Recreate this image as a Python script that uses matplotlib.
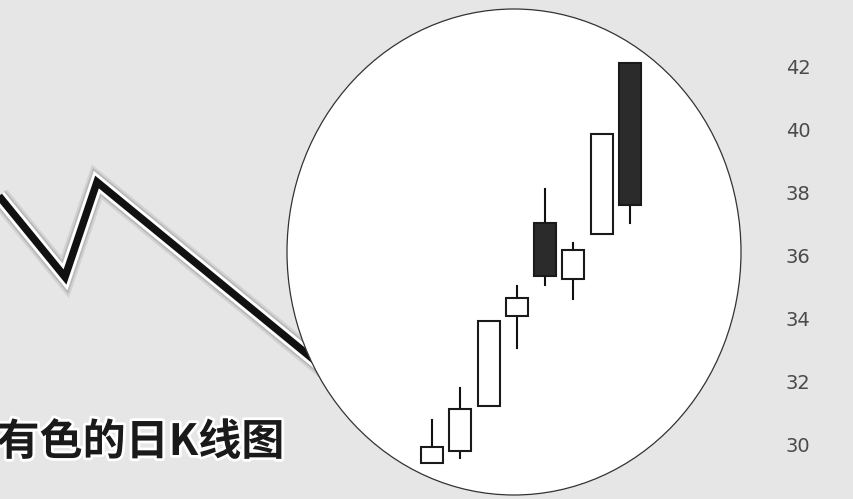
import numpy as np
import matplotlib
matplotlib.use('Agg')
import matplotlib.pyplot as plt
from matplotlib.patches import Ellipse, Rectangle
import matplotlib.patheffects as pe

plt.rcParams['font.family'] = ['Noto Sans CJK SC', 'DejaVu Sans']
plt.rcParams['axes.unicode_minus'] = False

W, H = 854, 499
BG = '#e6e6e6'

# K线数据 (开 高 低 收)
OPEN  = [29.39, 29.77, 31.21, 34.08, 37.05, 35.26, 36.67, 42.14]
HIGH  = [30.76, 31.78, 33.92, 35.03, 38.11, 36.40, 39.87, 42.14]
LOW   = [29.39, 29.55, 31.21, 33.06, 35.06, 34.60, 36.67, 37.04]
CLOSE = [29.90, 31.11, 33.92, 34.65, 35.34, 36.17, 39.87, 37.61]
YTICKS = [30, 32, 34, 36, 38, 40, 42]

# 左侧折线 (像素坐标)
ZIG_X = [-10, 65, 97, 330]
ZIG_Y = [185, 277, 182, 373]

TITLE = '有色的日K线图'

fig = plt.figure(figsize=(W / 100, H / 100), dpi=100)
fig.patch.set_facecolor(BG)

# 背景层：折线 + 椭圆 + 标题
bg = fig.add_axes([0, 0, 1, 1])
bg.set_xlim(0, W); bg.set_ylim(H, 0)
bg.axis('off')
bg.plot(ZIG_X, ZIG_Y, color='#111111', lw=5.4, solid_joinstyle='miter',
        solid_capstyle='butt', zorder=2,
        path_effects=[pe.Stroke(linewidth=15, foreground='#d2d2d2'),
                      pe.Stroke(linewidth=12, foreground='#b8b8b8'),
                      pe.Stroke(linewidth=9.5, foreground='white'),
                      pe.Normal()])
bg.add_patch(Ellipse((514, 252), 454, 486, facecolor='white',
                     edgecolor='#333333', lw=0.9, zorder=3))
bg.text(284, 442, TITLE, ha='right', va='center', fontsize=31,
        fontweight='bold', color='#1a1a1a', zorder=4,
        path_effects=[pe.Stroke(linewidth=4, foreground='white'), pe.Normal()])

# K线层
ax = fig.add_axes([418 / W, (H - 444) / H, 226 / W, 377 / H])
ax.patch.set_alpha(0)
ax.set_xlim(-0.5, 7.5); ax.set_ylim(30, 42)
for s in ax.spines.values():
    s.set_visible(False)
ax.set_xticks([])
ax.yaxis.tick_right()
ax.set_yticks(YTICKS)
ax.tick_params(axis='y', length=0, pad=102, labelsize=14, labelcolor='#4a4a4a')
for lab in ax.get_yticklabels():
    lab.set_fontfamily('DejaVu Sans')

bw = 0.78
for i, (o, h, l, c) in enumerate(zip(OPEN, HIGH, LOW, CLOSE)):
    top, bot = max(o, c), min(o, c)
    fc = '#2b2b2b' if c < o else 'white'
    if h > top:
        ax.plot([i, i], [top, h], color='#111111', lw=1.5, clip_on=False, zorder=2)
    if l < bot:
        ax.plot([i, i], [l, bot], color='#111111', lw=1.5, clip_on=False, zorder=2)
    ax.add_patch(Rectangle((i - bw / 2, bot), bw, top - bot, facecolor=fc,
                           edgecolor='#1a1a1a', lw=1.5, clip_on=False, zorder=3))

fig.savefig('out.png', dpi=100, facecolor=BG)
